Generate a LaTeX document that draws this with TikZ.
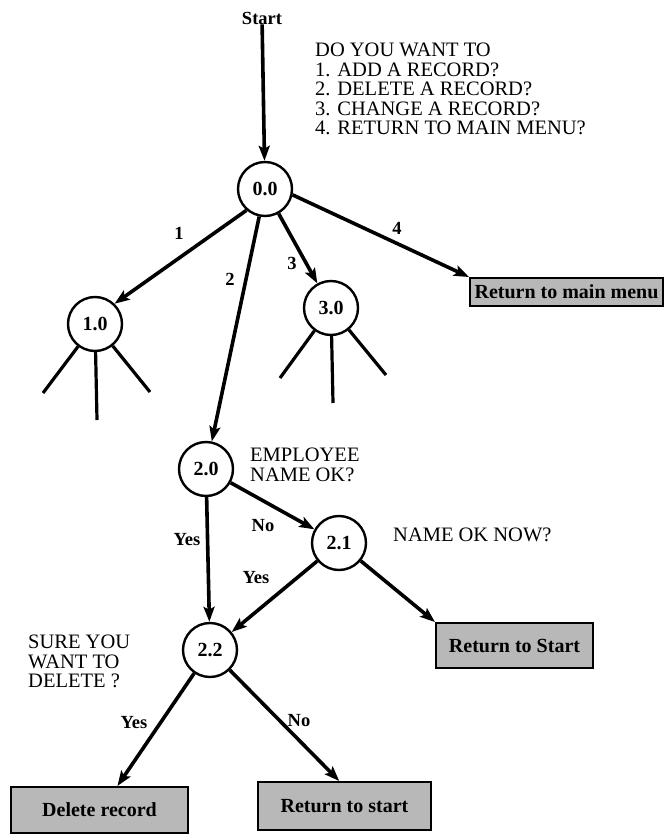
\documentclass[tikz,border=0pt]{standalone}
\usepackage{fontspec}
\setmainfont{Liberation Serif}
\usetikzlibrary{arrows.meta,calc}
\begin{document}
\begin{tikzpicture}[x=1pt,y=-1pt,
  state/.style={circle,draw,line width=2.4pt,minimum size=54pt,inner sep=0pt,
    font=\bfseries\fontsize{20}{20}\selectfont},
  choice/.style={draw,line width=2pt,fill=black!28,inner sep=0pt,
    font=\bfseries\fontsize{20}{20}\selectfont},
  prompt/.style={anchor=north west,inner sep=0pt,align=left,
    font=\fontsize{20.5}{19.5}\selectfont},
  tag/.style={inner sep=0pt,font=\bfseries\fontsize{18.5}{18.5}\selectfont},
  flow/.style={line width=3.6pt,-{Stealth[length=15pt,width=11pt,inset=3pt]}},
  stub/.style={line width=3.2pt}]
\useasboundingbox (0,0) rectangle (669,834);

% states of the dialogue
\node[tag] (start) at (262,18) {Start};
\node[state] (n00) at (265,189) {0.0};
\node[state] (n10) at (95,324) {1.0};
\node[state] (n30) at (331,308) {3.0};
\node[state] (n20) at (206,469) {2.0};
\node[state] (n21) at (339,543) {2.1};
\node[state] (n22) at (210,650) {2.2};

% exits
\node[choice,minimum width=193pt,minimum height=28pt] (rm) at (566.5,292) {Return to main menu};
\node[choice,minimum width=157pt,minimum height=45pt] (rs) at (514.5,645.5) {Return to Start};
\node[choice,minimum width=177pt,minimum height=46pt] (dr) at (99.5,810) {Delete record};
\node[choice,minimum width=173pt,minimum height=48pt] (rt) at (344.5,806) {Return to start};

% questions asked at each state
\node[prompt] (q00) at (315,43) {DO YOU WANT TO\\1. ADD A RECORD?\\2. DELETE A RECORD?\\3. CHANGE A RECORD?\\4. RETURN TO MAIN MENU?};
\node[prompt] (q20) at (250,448) {EMPLOYEE\\NAME OK?};
\node[prompt] (q21) at (393,528) {NAME OK NOW?};
\node[prompt] (q22) at (28,635) {SURE YOU\\WANT TO\\DELETE ?};

% unexpanded sub-trees
\coordinate (l1) at (43,393);
\coordinate (m1) at (97,420);
\coordinate (r1) at (150,392);
\coordinate (l3) at (280,378);
\coordinate (m3) at (333,403);
\coordinate (r3) at (386,375);
\draw[stub] (n10) -- (l1);
\draw[stub] (n10) -- (m1);
\draw[stub] (n10) -- (r1);
\draw[stub] (n30) -- (l3);
\draw[stub] (n30) -- (m3);
\draw[stub] (n30) -- (r3);

% transitions
\draw[flow] (start) -- (n00);
\draw[flow] (n00.229) -- (n10.46);
\draw[flow] (n00) -- (n20);
\draw[flow] (n00) -- (n30);
\draw[flow] (n00.-12) -- (rm.north west);
\draw[flow] (n20) -- (n21);
\draw[flow] (n20) -- (n22);
\draw[flow] (n21) -- (n22);
\draw[flow] (n21) -- (rs.north west);
\draw[flow] (n22) -- ($(dr.north west)!0.6!(dr.north east)$);
\draw[flow] (n22) -- ($(rt.north west)!0.47!(rt.north east)$);

% answers on the transitions
\node[tag] (a1) at (179,233) {1};
\node[tag] (a2) at (230,279) {2};
\node[tag] (a3) at (292,263) {3};
\node[tag] (a4) at (397,228) {4};
\node[tag] (y20) at (187,540) {Yes};
\node[tag] (no20) at (263,526) {No};
\node[tag] (y21) at (256,578) {Yes};
\node[tag] (y22) at (134,723) {Yes};
\node[tag] (no22) at (299,721) {No};
\end{tikzpicture}
\end{document}
